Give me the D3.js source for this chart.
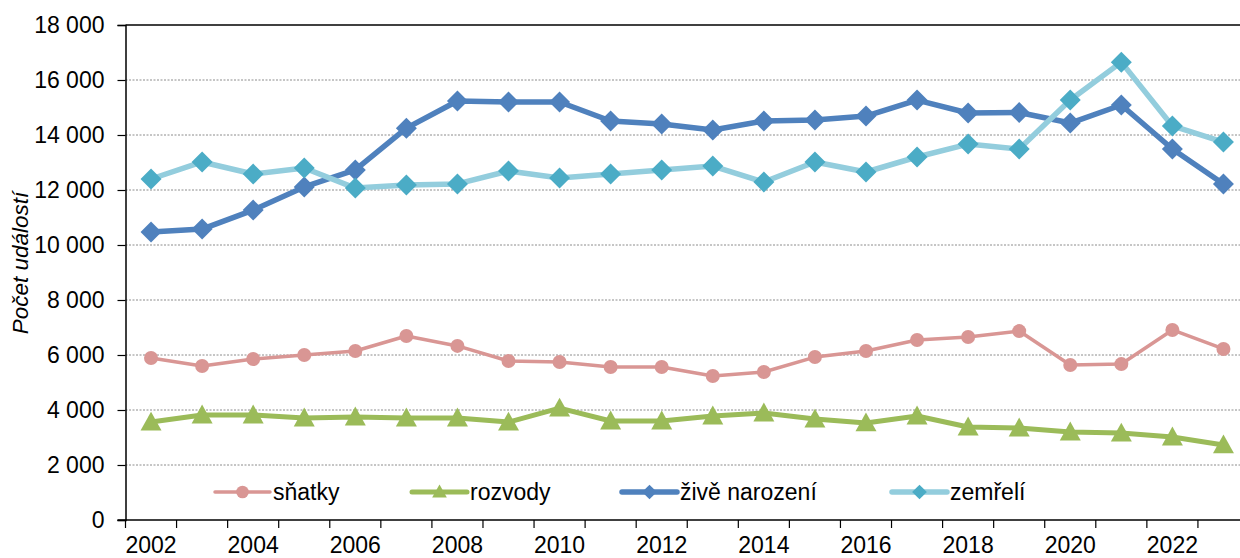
<!DOCTYPE html>
<html><head><meta charset="utf-8">
<script src="https://cdn.jsdelivr.net/npm/d3@7"></script>
<style>
body{margin:0;background:#fff;}
svg{display:block;font-family:"Liberation Sans",Arial,sans-serif;}
</style></head>
<body><svg id="c" width="1240" height="558"></svg>
<script>
const years = d3.range(2002, 2024);
const yTicks = [0,2000,4000,6000,8000,10000,12000,14000,16000,18000];
const xTickLabels = [2002,2004,2006,2008,2010,2012,2014,2016,2018,2020,2022];
const snatky = [5890,5600,5855,6000,6145,6690,6330,5780,5745,5565,5565,5235,5380,5925,6145,6545,6655,6870,5635,5670,6910,6220];
const rozvody = [3560,3820,3820,3710,3745,3710,3710,3560,4070,3600,3600,3780,3890,3670,3530,3780,3380,3345,3200,3160,3020,2730];
const narozeni = [10470,10580,11270,12110,12730,14250,15235,15200,15200,14510,14400,14180,14510,14545,14690,15270,14800,14820,14435,15090,13490,12220];
const zemreli = [12400,13020,12580,12800,12070,12180,12220,12690,12435,12580,12730,12870,12290,13020,12655,13200,13670,13490,15270,16650,14330,13745];
const seriesNames = ["sňatky","rozvody","živě narození","zemřelí"];

const svg = d3.select("#c");
const L = 125.5, R = 1249, T = 25, B = 520;
const x = d3.scaleBand().domain(years).range([L, R]);
const y = d3.scaleLinear().domain([0, 18000]).range([B, T]);
const fmt = d3.formatLocale({decimal:",", thousands:" ", grouping:[3], currency:["",""]}).format(",d");

// gridlines
svg.append("g").selectAll("line").data(yTicks.filter(v => v > 0 && v < 18000)).join("line")
  .attr("x1", L).attr("x2", R).attr("y1", d => y(d)).attr("y2", d => y(d))
  .attr("stroke", "#8c8c8c").attr("stroke-width", 1).attr("stroke-dasharray", "2,1.5");
svg.append("line").attr("x1", L).attr("x2", R).attr("y1", y(18000)).attr("y2", y(18000))
  .attr("stroke", "#000").attr("stroke-width", 1.5);

// y axis
const ya = svg.append("g").attr("transform", `translate(${L},0)`)
  .call(d3.axisLeft(y).tickValues(yTicks).tickFormat(fmt).tickSize(8).tickPadding(13));
ya.select(".domain").attr("stroke", "#000").attr("stroke-width", 1.5);
ya.selectAll(".tick line").attr("stroke", "#000").attr("stroke-width", 1.2);
ya.selectAll("text").attr("font-size", 23).attr("fill", "#000").attr("font-family", "Liberation Sans, Arial, sans-serif");

// x axis
const xa = svg.append("g").attr("transform", `translate(0,${B})`);
xa.append("line").attr("x1", L - 8).attr("x2", R).attr("y1", 0).attr("y2", 0).attr("stroke", "#000").attr("stroke-width", 1.5);
xa.selectAll("line.tk").data(years).join("line").attr("class", "tk")
  .attr("x1", d => x(d)).attr("x2", d => x(d)).attr("y1", 0).attr("y2", 8)
  .attr("stroke", "#000").attr("stroke-width", 1.2);
xa.selectAll("text").data(xTickLabels).join("text")
  .attr("x", d => x(d) + x.bandwidth() / 2).attr("y", 33)
  .attr("text-anchor", "middle").attr("font-size", 23).attr("fill", "#000").text(d => d);

// axis title
svg.append("text").attr("transform", "translate(28,263) rotate(-90)")
  .attr("text-anchor", "middle").attr("font-size", 22.5).attr("font-style", "italic").text("Počet událostí");

const cx = (d, i) => x(years[i]) + x.bandwidth() / 2;
const line = d3.line().x((d, i) => cx(d, i)).y(d => y(d));

function diamond(s) { return `M0,${-s}L${s},0L0,${s}L${-s},0Z`; }
function tri(s) { const h = s * 0.9; return `M0,${-h/2-1}L${s/2},${h/2-1}L${-s/2},${h/2-1}Z`; }

const series = [
  {name: seriesNames[0], data: snatky, stroke: "#D99694", w: 3.5, fill: "#D99694", shape: "circle", size: 7},
  {name: seriesNames[1], data: rozvody, stroke: "#9BBB59", w: 5, fill: "#9BBB59", shape: "tri", size: 21},
  {name: seriesNames[2], data: narozeni, stroke: "#4F81BD", w: 5.5, fill: "#4F81BD", shape: "diamond", size: 10.5},
  {name: seriesNames[3], data: zemreli, stroke: "#93CDDD", w: 5.5, fill: "#4BACC6", shape: "diamond", size: 10.5}
];

function marker(g, s, scale) {
  if (s.shape === "circle") return g.append("circle").attr("r", s.size * scale).attr("fill", s.fill);
  if (s.shape === "tri") return g.append("path").attr("d", tri(s.size * scale)).attr("fill", s.fill);
  return g.append("path").attr("d", diamond(s.size * scale)).attr("fill", s.fill);
}

series.forEach(s => {
  const g = svg.append("g");
  g.append("path").datum(s.data).attr("d", line).attr("fill", "none")
    .attr("stroke", s.stroke).attr("stroke-width", s.w).attr("stroke-linejoin", "round");
  s.data.forEach((v, i) => {
    const mg = g.append("g").attr("transform", `translate(${cx(v, i)},${y(v)})`);
    marker(mg, s, 1);
  });
});

// legend
const legX = [215, 412, 622, 892];
const legY = 492;
series.forEach((s, i) => {
  const g = svg.append("g").attr("transform", `translate(${legX[i]},${legY})`);
  g.append("line").attr("x1", 0).attr("x2", 55).attr("y1", 0).attr("y2", 0)
    .attr("stroke", s.stroke).attr("stroke-width", s.w).attr("stroke-linecap", "round");
  const mg = g.append("g").attr("transform", "translate(27.5,0)");
  marker(mg, s, s.shape === "circle" ? 0.9 : 0.7);
  g.append("text").attr("x", 58).attr("y", 8).attr("font-size", 23).attr("fill", "#000").text(s.name);
});
</script></body></html>
